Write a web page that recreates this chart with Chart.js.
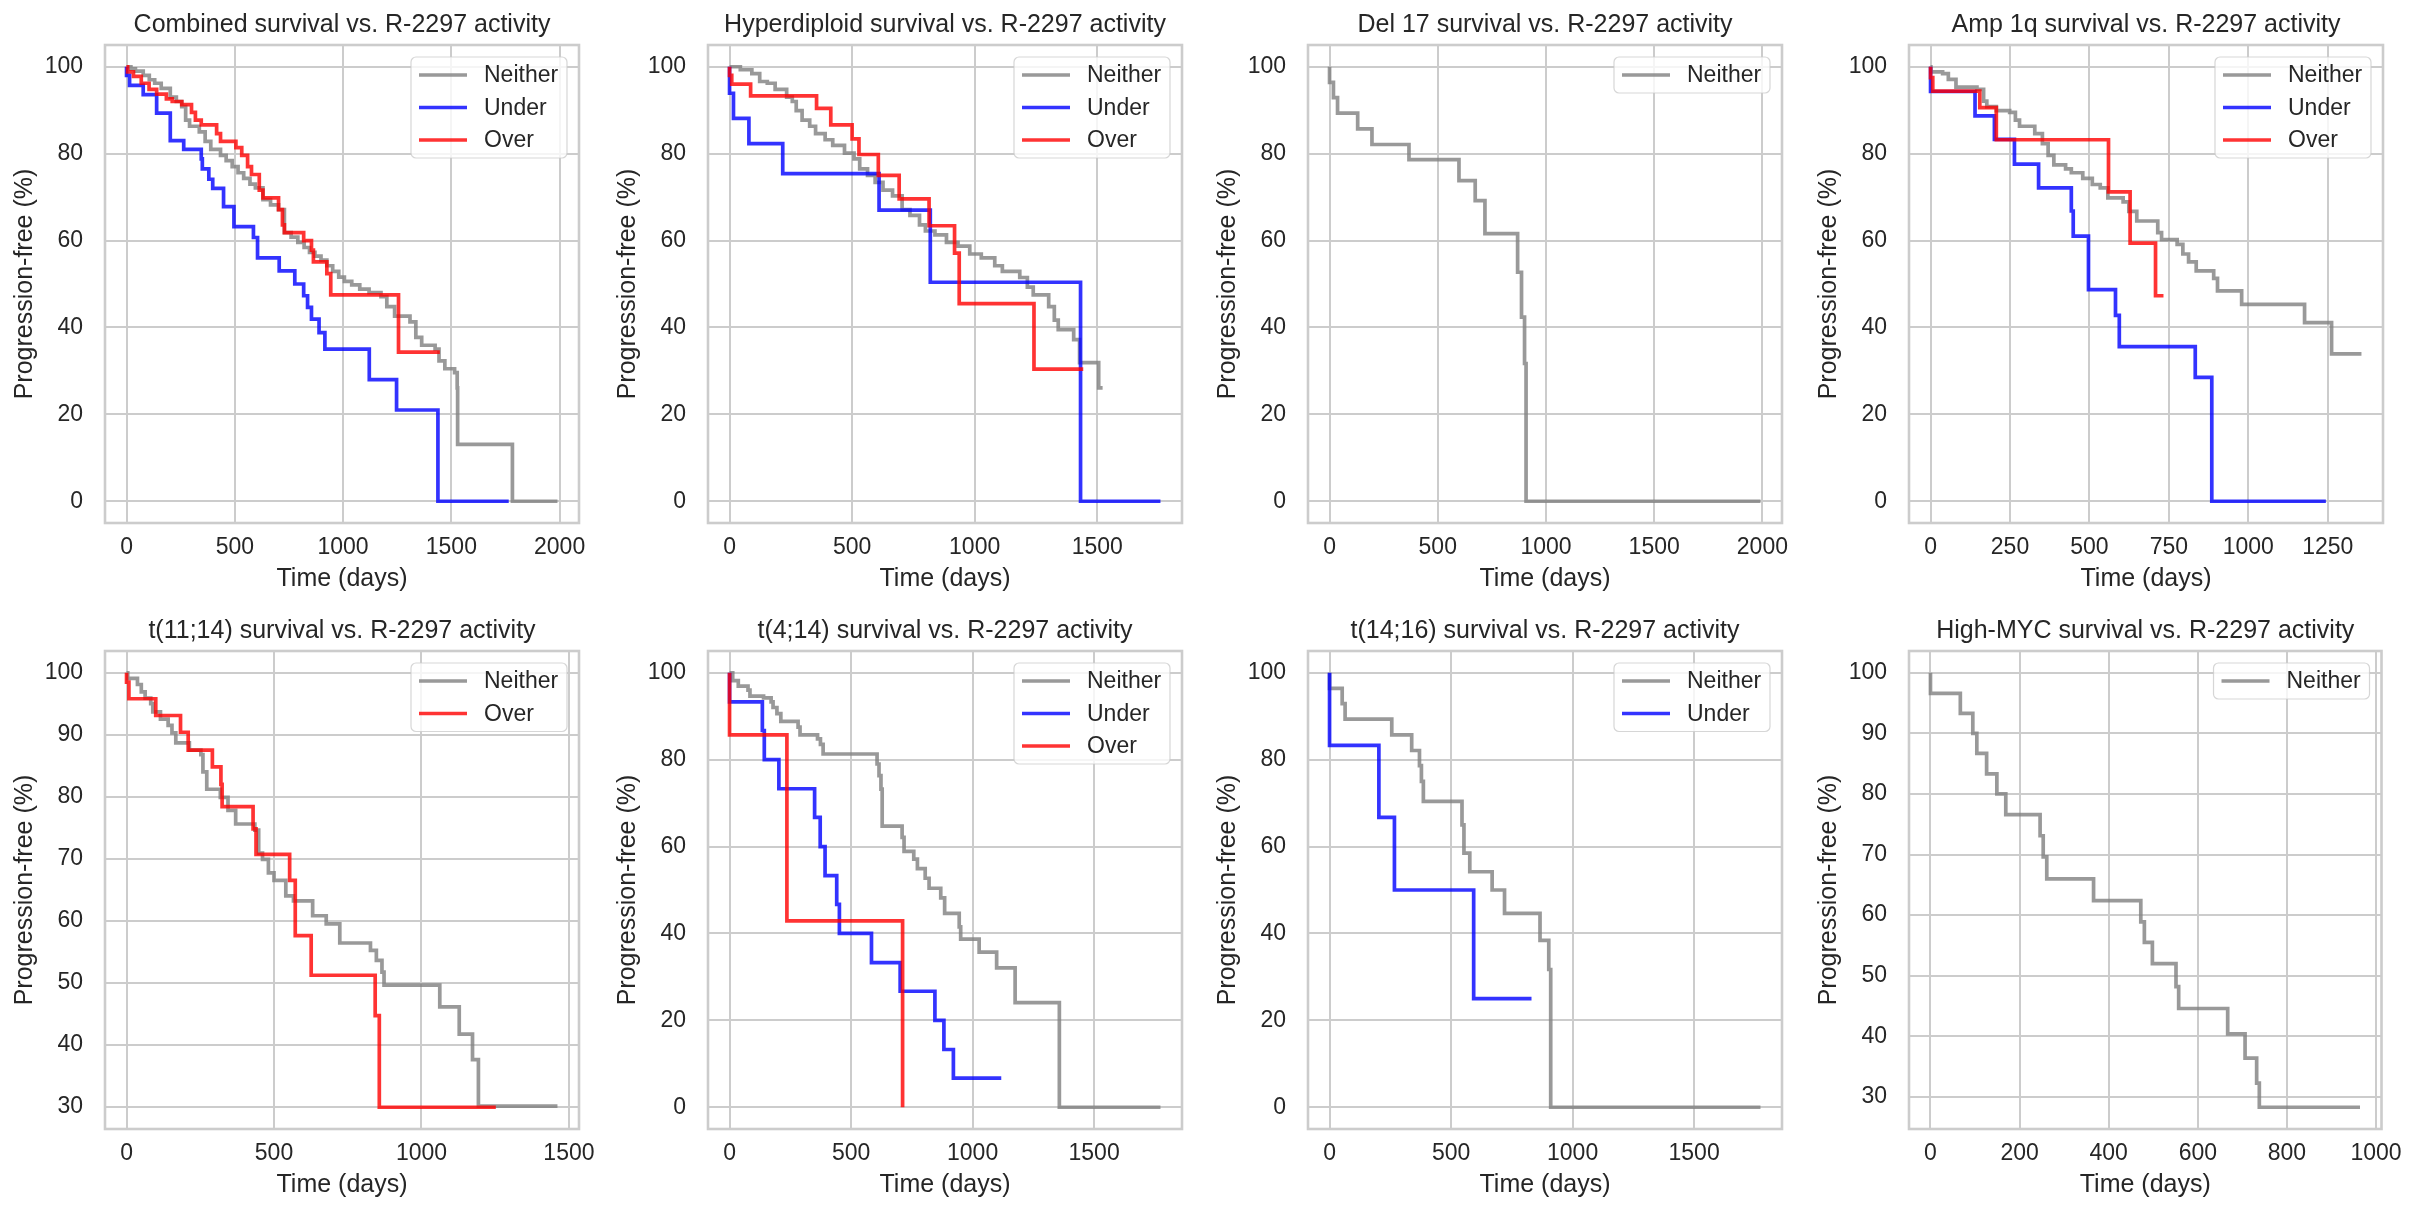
<!DOCTYPE html>
<html>
<head>
<meta charset="utf-8">
<script src="https://cdn.jsdelivr.net/npm/chart.js@4.4.1/dist/chart.umd.min.js"></script>
<style>
  html, body { margin: 0; padding: 0; background: #fff; width: 2418px; height: 1218px; overflow: hidden; }
  .panel { position: absolute; }
</style>
</head>
<body>
<div id="grid"></div>
<script>
// ---- data (days, % progression-free after each step) ----
var combinedNeitherDays = [0, 20, 41, 77, 105, 130, 160, 202, 230, 255, 273, 291, 336, 363, 389, 434, 460, 488, 515, 541, 570, 595, 630, 665, 702, 729, 760, 791, 820, 845, 870, 898, 925, 952, 980, 1006, 1040, 1077, 1120, 1175, 1202, 1238, 1309, 1336, 1363, 1425, 1443, 1470, 1515, 1527, 1529, 1782, 1990];
var combinedNeitherPct  = [100, 99.5, 99.0, 98.0, 97.0, 96.2, 95.0, 93.0, 92.0, 90.8, 87.7, 86.3, 85.0, 82.8, 81.0, 79.6, 78.4, 77.0, 75.6, 74.3, 73.0, 72.1, 69.4, 68.2, 67.1, 61.8, 60.8, 59.6, 58.4, 57.3, 56.4, 55.5, 54.2, 52.9, 51.6, 50.6, 49.8, 48.8, 48.0, 47.1, 44.8, 42.6, 41.3, 37.7, 35.9, 35.0, 32.3, 30.5, 29.6, 26.1, 13.1, 0, 0];
var combinedUnderDays = [0, 0, 14, 77, 139, 202, 264, 345, 350, 380, 398, 448, 496, 586, 605, 705, 777, 818, 836, 854, 889, 916, 1121, 1247, 1438, 1765];
var combinedUnderPct  = [100, 98, 95.7, 93.6, 89.3, 83.0, 81.0, 78.8, 76.5, 74.1, 72.0, 67.8, 63.2, 60.7, 56.0, 53.0, 50.0, 47.3, 44.6, 41.9, 38.8, 35.0, 28.0, 21.0, 0, 0];
var combinedOverDays = [0, 5, 32, 68, 104, 139, 184, 211, 255, 300, 318, 345, 416, 434, 505, 532, 559, 577, 613, 630, 702, 720, 729, 818, 854, 863, 925, 943, 1256, 1447];
var combinedOverPct  = [100, 98.8, 97.8, 96.2, 94.8, 93.7, 92.6, 92.0, 91.3, 89.5, 87.7, 86.6, 84.6, 82.8, 81.4, 79.6, 77.0, 75.2, 71.6, 69.8, 67.1, 63.6, 61.8, 60.0, 57.8, 55.1, 52.4, 47.5, 34.3, 34.3];

var hyperNeitherDays = [0, 44, 91, 123, 154, 186, 233, 256, 272, 296, 327, 351, 390, 421, 469, 508, 531, 563, 594, 626, 665, 704, 736, 775, 799, 838, 885, 932, 980, 1027, 1082, 1113, 1184, 1215, 1239, 1302, 1325, 1341, 1404, 1428, 1506, 1522];
var hyperNeitherPct  = [100, 99.3, 98.4, 96.6, 96.2, 94.8, 93.0, 92.0, 89.9, 87.7, 86.3, 84.6, 83.2, 81.9, 80.1, 78.8, 76.5, 75.0, 73.4, 71.6, 70.3, 67.1, 65.8, 63.6, 62.2, 61.3, 59.6, 58.7, 56.9, 56.0, 54.2, 52.9, 51.5, 49.3, 47.5, 44.8, 41.7, 39.5, 37.2, 31.9, 26.1, 26.1];
var hyperUnderDays = [0, 0, 16, 79, 217, 610, 819, 1432, 1758];
var hyperUnderPct  = [100, 93.9, 88.1, 82.3, 75.4, 67.0, 50.4, 0, 0];
var hyperOverDays = [0, 0, 9, 86, 355, 413, 500, 528, 607, 692, 814, 918, 937, 1242, 1443];
var hyperOverPct  = [100, 98, 96, 93.3, 90.4, 86.6, 83.4, 79.8, 75.0, 69.6, 63.4, 57.1, 45.5, 30.4, 30.4];

var del17NeitherDays = [0, 0, 18, 37, 130, 196, 367, 598, 673, 718, 869, 887, 901, 908, 1991];
var del17NeitherPct  = [100, 96.4, 92.9, 89.3, 85.7, 82.1, 78.6, 73.8, 69.2, 61.6, 52.7, 42.4, 31.7, 0, 0];

var amp1qNeitherDays = [0, 1, 38, 56, 80, 146, 167, 177, 207, 249, 267, 280, 328, 352, 370, 388, 425, 443, 479, 509, 534, 558, 606, 624, 649, 715, 727, 776, 794, 812, 836, 891, 903, 979, 1177, 1262, 1356];
var amp1qNeitherPct  = [100, 98.8, 98.4, 97.1, 95.3, 94.8, 92.1, 90.8, 89.9, 89.5, 87.7, 86.3, 84.6, 82.3, 79.6, 77.4, 76.5, 75.6, 74.3, 72.9, 72.1, 69.8, 68.9, 66.7, 64.5, 61.8, 60.2, 59.1, 56.9, 55.1, 53.0, 51.3, 48.4, 45.3, 41.1, 33.9, 33.9];
var amp1qUnderDays = [0, 0, 140, 201, 264, 340, 443, 449, 497, 582, 594, 833, 885, 1244];
var amp1qUnderPct  = [100, 94.3, 88.7, 83.3, 77.6, 72.1, 66.8, 61.0, 48.7, 42.8, 35.6, 28.5, 0, 0];
var amp1qOverDays = [0, 0, 7, 155, 207, 560, 628, 708, 733];
var amp1qOverPct  = [100, 97.5, 94.4, 90.6, 83.2, 71.2, 59.4, 47.3, 47.3];

var t1114NeitherDays = [0, 4, 37, 50, 63, 82, 89, 115, 141, 154, 167, 213, 252, 259, 272, 318, 344, 370, 435, 448, 461, 481, 500, 540, 566, 631, 677, 723, 827, 847, 866, 873, 1062, 1128, 1173, 1193, 1461];
var t1114NeitherPct  = [100, 99.1, 98.1, 96.9, 95.9, 95.0, 93.7, 92.5, 91.5, 90.3, 88.7, 87.5, 86.8, 84.0, 81.2, 79.9, 77.8, 75.6, 74.6, 70.9, 69.9, 67.7, 66.5, 64.0, 63.2, 60.8, 59.5, 56.4, 55.2, 53.6, 51.7, 49.6, 46.1, 41.7, 37.6, 30.1, 30.1];
var t1114OverDays = [0, 0, 8, 99, 183, 209, 291, 320, 324, 429, 439, 553, 572, 626, 843, 857, 1252];
var t1114OverPct  = [100, 98.5, 95.8, 93.1, 90.4, 87.5, 84.8, 82.0, 78.4, 74.8, 70.7, 66.5, 57.6, 51.2, 44.7, 29.9, 29.9];

var t414NeitherDays = [0, 13, 36, 76, 84, 140, 171, 179, 195, 211, 282, 290, 362, 374, 385, 607, 615, 623, 628, 710, 718, 758, 773, 805, 821, 869, 885, 945, 951, 1027, 1099, 1175, 1357, 1773];
var t414NeitherPct  = [100, 98.2, 96.9, 96.0, 94.6, 94.2, 93.3, 92.0, 90.6, 88.8, 87.5, 85.7, 84.8, 83.5, 81.3, 79.0, 76.3, 73.2, 64.7, 62.1, 58.9, 57.1, 54.9, 52.7, 50.4, 48.2, 44.6, 41.5, 38.7, 35.7, 32.1, 24.1, 0, 0];
var t414UnderDays = [0, 0, 135, 143, 203, 350, 373, 393, 441, 452, 584, 702, 845, 882, 921, 1118];
var t414UnderPct  = [100, 93.3, 86.7, 80.0, 73.3, 66.7, 60.0, 53.3, 46.7, 40.0, 33.3, 26.7, 20.0, 13.3, 6.7, 6.7];
var t414OverDays = [0, 0, 236, 712];
var t414OverPct  = [100, 85.7, 42.9, 0];

var t1416NeitherDays = [0, 0, 52, 64, 256, 338, 370, 378, 386, 545, 553, 577, 669, 720, 866, 902, 910, 1773];
var t1416NeitherPct  = [100, 96.4, 92.9, 89.3, 85.7, 82.1, 78.6, 75.0, 70.4, 65.0, 58.5, 54.2, 50.0, 44.6, 38.4, 31.7, 0, 0];
var t1416UnderDays = [0, 0, 203, 267, 593, 831];
var t1416UnderPct  = [100, 83.3, 66.7, 50.0, 25.0, 25.0];

var mycNeitherDays = [0, 0, 67, 95, 104, 126, 149, 169, 246, 253, 261, 366, 472, 480, 498, 551, 557, 667, 706, 732, 738, 964];
var mycNeitherPct  = [100, 96.6, 93.3, 90.0, 86.7, 83.3, 80.0, 76.6, 73.1, 69.6, 66.0, 62.4, 58.9, 55.5, 52.0, 48.2, 44.6, 40.4, 36.4, 32.3, 28.3, 28.3];

var panelTitles = [
  'Combined survival vs. R-2297 activity', 'Hyperdiploid survival vs. R-2297 activity',
  'Del 17 survival vs. R-2297 activity', 'Amp 1q survival vs. R-2297 activity',
  't(11;14) survival vs. R-2297 activity', 't(4;14) survival vs. R-2297 activity',
  't(14;16) survival vs. R-2297 activity', 'High-MYC survival vs. R-2297 activity'
];
var xTicks2000 = [0, 500, 1000, 1500, 2000];
var xTicks1500 = [0, 500, 1000, 1500];
var xTicksAmp = [0, 250, 500, 750, 1000, 1250];
var xTicksMyc = [0, 200, 400, 600, 800, 1000];
var yTicksFull = [0, 20, 40, 60, 80, 100];
var yTicksUpper = [30, 40, 50, 60, 70, 80, 90, 100];

// ---- styling ----
var colors = { Neither: 'rgba(128,128,128,0.8)', Under: 'rgba(0,0,255,0.8)', Over: 'rgba(255,0,0,0.8)' };
var ink = '#262626';
var lineGrey = '#cccccc';
var fam = '"Liberation Sans", Arial, sans-serif';
Chart.defaults.font.family = fam;
Chart.defaults.color = ink;

var panels = [
  { series: [['Neither', combinedNeitherDays, combinedNeitherPct], ['Under', combinedUnderDays, combinedUnderPct], ['Over', combinedOverDays, combinedOverPct]], xt: xTicks2000, yt: yTicksFull },
  { series: [['Neither', hyperNeitherDays, hyperNeitherPct], ['Under', hyperUnderDays, hyperUnderPct], ['Over', hyperOverDays, hyperOverPct]], xt: xTicks1500, yt: yTicksFull },
  { series: [['Neither', del17NeitherDays, del17NeitherPct]], xt: xTicks2000, yt: yTicksFull },
  { series: [['Neither', amp1qNeitherDays, amp1qNeitherPct], ['Under', amp1qUnderDays, amp1qUnderPct], ['Over', amp1qOverDays, amp1qOverPct]], xt: xTicksAmp, yt: yTicksFull },
  { series: [['Neither', t1114NeitherDays, t1114NeitherPct], ['Over', t1114OverDays, t1114OverPct]], xt: xTicks1500, yt: yTicksUpper },
  { series: [['Neither', t414NeitherDays, t414NeitherPct], ['Under', t414UnderDays, t414UnderPct], ['Over', t414OverDays, t414OverPct]], xt: xTicks1500, yt: yTicksFull },
  { series: [['Neither', t1416NeitherDays, t1416NeitherPct], ['Under', t1416UnderDays, t1416UnderPct]], xt: xTicks1500, yt: yTicksFull },
  { series: [['Neither', mycNeitherDays, mycNeitherPct]], xt: xTicksMyc, yt: yTicksUpper }
];

// plot-box geometry (px)
var plotLefts = [105, 708, 1308, 1909];
var plotTops = [45, 651];
var plotW = 474, plotH = 478;
var padL = 105, padT = 45, padB = 80, padR = 30;
var lineW = 3.7;

// frame around the axes + title centred over the plot box
var frame = {
  id: 'frame',
  afterDatasetsDraw: function(chart) {
    var a = chart.chartArea, ctx = chart.ctx;
    ctx.save();
    ctx.strokeStyle = lineGrey;
    ctx.lineWidth = 2.6;
    ctx.strokeRect(a.left, a.top, a.right - a.left, a.bottom - a.top);
    ctx.fillStyle = ink;
    ctx.font = '25px ' + fam;
    ctx.textAlign = 'center';
    ctx.textBaseline = 'middle';
    ctx.fillText(chart.options.plugins.panelTitle.text, (a.left + a.right) / 2, a.top - 20);
    ctx.restore();
  }
};

// matplotlib-like legend box in the upper right
var boxLegend = {
  id: 'boxLegend',
  afterDraw: function(chart) {
    var a = chart.chartArea, ctx = chart.ctx;
    var sets = chart.data.datasets;
    var w = 156, h = 36 + 32.5 * (sets.length - 1);
    var x = a.right - 12 - w, y = a.top + 12, r = 5;
    ctx.save();
    ctx.beginPath();
    ctx.moveTo(x + r, y);
    ctx.arcTo(x + w, y, x + w, y + h, r);
    ctx.arcTo(x + w, y + h, x, y + h, r);
    ctx.arcTo(x, y + h, x, y, r);
    ctx.arcTo(x, y, x + w, y, r);
    ctx.closePath();
    ctx.fillStyle = 'rgba(255,255,255,0.8)';
    ctx.fill();
    ctx.strokeStyle = 'rgba(204,204,204,0.8)';
    ctx.lineWidth = 1.2;
    ctx.stroke();
    ctx.font = '23px ' + fam;
    ctx.textBaseline = 'middle';
    ctx.textAlign = 'left';
    for (var i = 0; i < sets.length; i++) {
      var ly = y + 18 + i * 32.5;
      ctx.strokeStyle = sets[i].borderColor;
      ctx.lineWidth = lineW;
      ctx.beginPath();
      ctx.moveTo(x + 8, ly);
      ctx.lineTo(x + 56, ly);
      ctx.stroke();
      ctx.fillStyle = ink;
      ctx.fillText(sets[i].label, x + 73, ly + 1);
    }
    ctx.restore();
  }
};

var grid = document.getElementById('grid');
panels.forEach(function(p, k) {
  var col = k % 4, row = Math.floor(k / 4);
  var div = document.createElement('div');
  div.className = 'panel';
  div.style.left = (plotLefts[col] - padL) + 'px';
  div.style.top = (plotTops[row] - padT) + 'px';
  div.style.width = (padL + plotW + padR) + 'px';
  div.style.height = (padT + plotH + padB) + 'px';
  var cv = document.createElement('canvas');
  div.appendChild(cv);
  grid.appendChild(div);

  var maxT = 0, minS = 100;
  var datasets = p.series.map(function(s, i) {
    var pts = s[1].map(function(d, j) { return { x: d, y: s[2][j] }; });
    maxT = Math.max(maxT, Math.max.apply(null, s[1]));
    minS = Math.min(minS, Math.min.apply(null, s[2]));
    return {
      label: s[0], data: pts, borderColor: colors[s[0]], backgroundColor: colors[s[0]],
      borderWidth: lineW, stepped: 'before', pointRadius: 0, pointHoverRadius: 0,
      fill: false, order: p.series.length - i
    };
  });
  var ySpan = 100 - minS;

  new Chart(cv, {
    type: 'line',
    data: { datasets: datasets },
    plugins: [frame, boxLegend],
    options: {
      responsive: true, maintainAspectRatio: false, animation: false, events: [],
      layout: { padding: { left: 0, top: padT, right: padR, bottom: 0 } },
      plugins: {
        legend: { display: false }, tooltip: { enabled: false }, title: { display: false },
        panelTitle: { text: panelTitles[k] }
      },
      scales: {
        x: {
          type: 'linear', min: -0.05 * maxT, max: 1.05 * maxT,
          grid: { color: lineGrey, lineWidth: 2, drawTicks: false },
          border: { display: false },
          ticks: { color: ink, font: { size: 23 }, padding: 11, maxRotation: 0,
                   callback: function(v) { return String(v); } },
          title: { display: true, text: 'Time (days)', color: ink, font: { size: 25 }, padding: { top: 0, bottom: 9 } },
          afterBuildTicks: function(s) { s.ticks = p.xt.map(function(v) { return { value: v }; }); },
          afterFit: function(s) { s.height = padB; }
        },
        y: {
          type: 'linear', min: minS - 0.05 * ySpan, max: 100 + 0.05 * ySpan,
          grid: { color: lineGrey, lineWidth: 2, drawTicks: false },
          border: { display: false },
          ticks: { color: ink, font: { size: 23 }, padding: 22,
                   callback: function(v) { return String(v); } },
          title: { display: true, text: 'Progression-free (%)', color: ink, font: { size: 25 }, padding: { top: 10, bottom: 0 } },
          afterBuildTicks: function(s) { s.ticks = p.yt.map(function(v) { return { value: v }; }); },
          afterFit: function(s) { s.width = padL; }
        }
      }
    }
  });
});
</script>
</body>
</html>
